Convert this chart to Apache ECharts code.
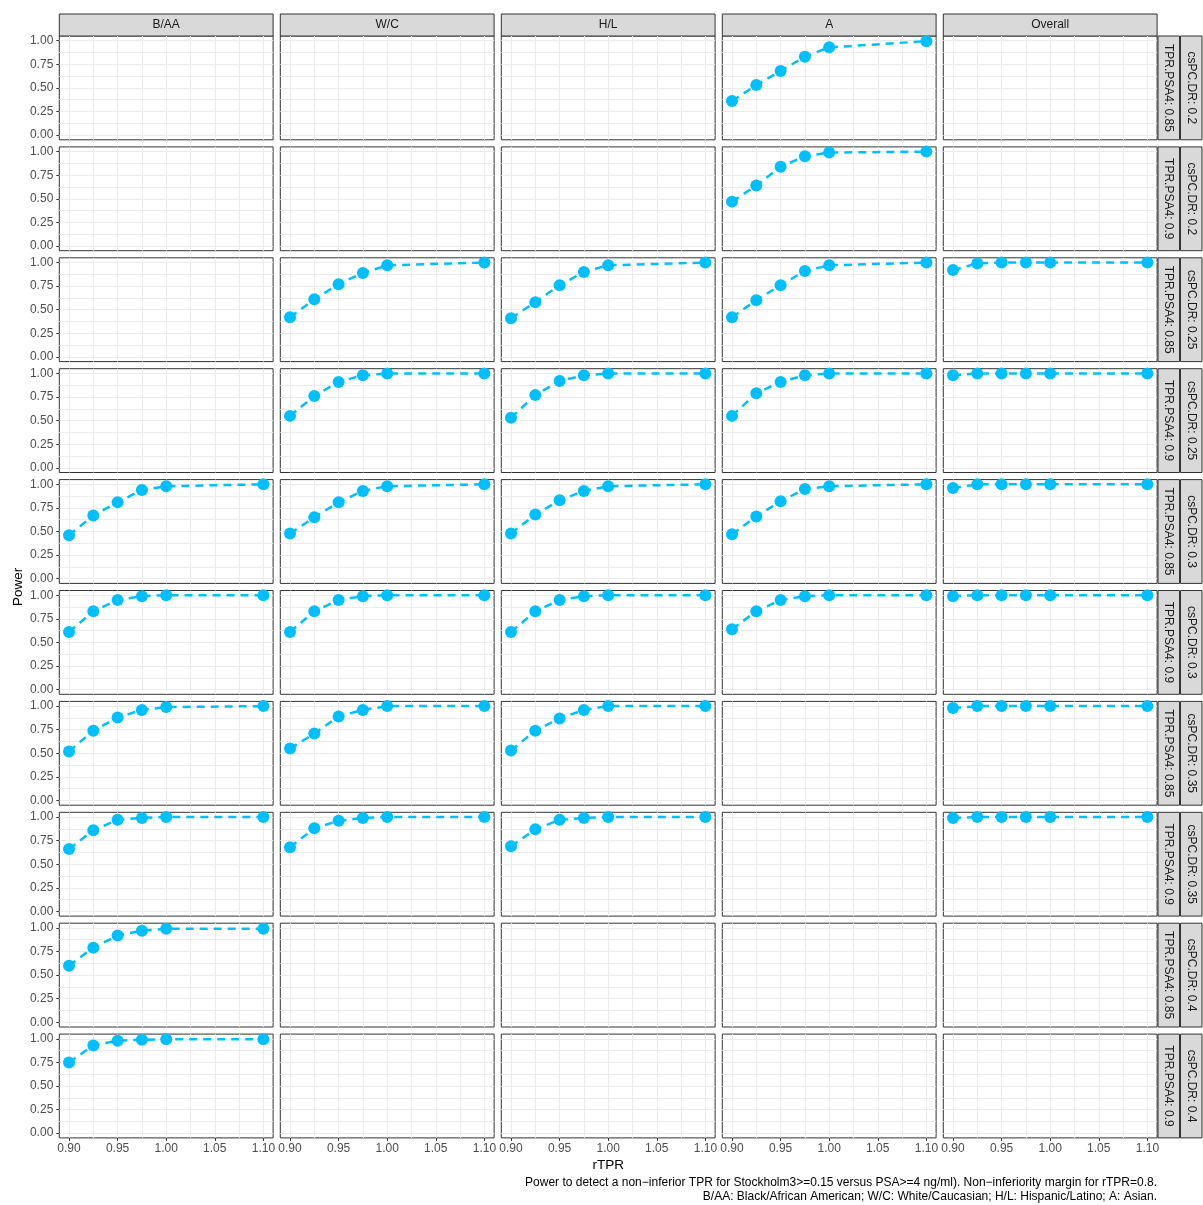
<!DOCTYPE html>
<html>
<head>
<meta charset="utf-8">
<title>Power vs rTPR</title>
<script src="https://cdn.jsdelivr.net/npm/echarts@6/dist/echarts.min.js"></script>
<style>
  html, body { margin: 0; padding: 0; background: #fff; }
  #chart { width: 1203px; height: 1205px; }
</style>
</head>
<body>
<div id="chart"></div>
<script>
// x positions shared by every panel
var rTPR = [0.9, 0.925, 0.95, 0.975, 1.0, 1.1];
var groups = ['B/AA', 'W/C', 'H/L', 'A', 'Overall'];
var csPCDR = ['0.2', '0.2', '0.25', '0.25', '0.3', '0.3', '0.35', '0.35', '0.4', '0.4'];
var tprPSA4 = ['0.85', '0.9', '0.85', '0.9', '0.85', '0.9', '0.85', '0.9', '0.85', '0.9'];
var xTicks = [0.9, 0.95, 1.0, 1.05, 1.1];
var xGridLines = [0.9, 0.925, 0.95, 0.975, 1.0, 1.025, 1.05, 1.075, 1.1];
var yTicks = [0, 0.25, 0.5, 0.75, 1];
var yGridLines = [0, 0.125, 0.25, 0.375, 0.5, 0.625, 0.75, 0.875, 1];

// power (one array per panel)
var pow_020_085_A = [0.36, 0.53, 0.68, 0.83, 0.93, 0.995];
var pow_020_090_A = [0.47, 0.64, 0.84, 0.95, 0.99, 1.0];
var pow_025_085_WC = [0.42, 0.61, 0.77, 0.89, 0.97, 1.0];
var pow_025_085_HL = [0.41, 0.58, 0.76, 0.90, 0.97, 1.0];
var pow_025_085_A = [0.42, 0.60, 0.76, 0.91, 0.97, 1.0];
var pow_025_085_All = [0.92, 0.99, 1.0, 1.0, 1.0, 1.0];
var pow_025_090_WC = [0.55, 0.76, 0.91, 0.98, 1.0, 1.0];
var pow_025_090_HL = [0.53, 0.77, 0.92, 0.98, 1.0, 1.0];
var pow_025_090_A = [0.55, 0.79, 0.91, 0.98, 1.0, 1.0];
var pow_025_090_All = [0.98, 1.0, 1.0, 1.0, 1.0, 1.0];
var pow_030_085_BAA = [0.46, 0.67, 0.81, 0.94, 0.98, 1.0];
var pow_030_085_WC = [0.48, 0.65, 0.81, 0.93, 0.98, 1.0];
var pow_030_085_HL = [0.48, 0.68, 0.83, 0.93, 0.98, 1.0];
var pow_030_085_A = [0.47, 0.66, 0.82, 0.95, 0.98, 1.0];
var pow_030_085_All = [0.96, 1.0, 1.0, 1.0, 1.0, 1.0];
var pow_030_090_BAA = [0.61, 0.83, 0.95, 0.99, 1.0, 1.0];
var pow_030_090_WC = [0.61, 0.83, 0.95, 0.99, 1.0, 1.0];
var pow_030_090_HL = [0.61, 0.83, 0.95, 0.99, 1.0, 1.0];
var pow_030_090_A = [0.64, 0.83, 0.95, 0.99, 1.0, 1.0];
var pow_030_090_All = [0.99, 1.0, 1.0, 1.0, 1.0, 1.0];
var pow_035_085_BAA = [0.52, 0.74, 0.88, 0.96, 0.99, 1.0];
var pow_035_085_WC = [0.55, 0.71, 0.89, 0.96, 1.0, 1.0];
var pow_035_085_HL = [0.53, 0.74, 0.87, 0.96, 1.0, 1.0];
var pow_035_085_All = [0.98, 1.0, 1.0, 1.0, 1.0, 1.0];
var pow_035_090_BAA = [0.66, 0.86, 0.97, 0.99, 1.0, 1.0];
var pow_035_090_WC = [0.68, 0.88, 0.96, 0.99, 1.0, 1.0];
var pow_035_090_HL = [0.69, 0.87, 0.97, 0.99, 1.0, 1.0];
var pow_035_090_All = [0.99, 1.0, 1.0, 1.0, 1.0, 1.0];
var pow_040_085_BAA = [0.60, 0.79, 0.92, 0.97, 0.99, 0.99];
var pow_040_090_BAA = [0.75, 0.93, 0.98, 0.99, 0.995, 0.995];

// [row, column, values]
var panels = [
  [0, 3, pow_020_085_A],
  [1, 3, pow_020_090_A],
  [2, 1, pow_025_085_WC], [2, 2, pow_025_085_HL], [2, 3, pow_025_085_A], [2, 4, pow_025_085_All],
  [3, 1, pow_025_090_WC], [3, 2, pow_025_090_HL], [3, 3, pow_025_090_A], [3, 4, pow_025_090_All],
  [4, 0, pow_030_085_BAA], [4, 1, pow_030_085_WC], [4, 2, pow_030_085_HL], [4, 3, pow_030_085_A], [4, 4, pow_030_085_All],
  [5, 0, pow_030_090_BAA], [5, 1, pow_030_090_WC], [5, 2, pow_030_090_HL], [5, 3, pow_030_090_A], [5, 4, pow_030_090_All],
  [6, 0, pow_035_085_BAA], [6, 1, pow_035_085_WC], [6, 2, pow_035_085_HL], [6, 4, pow_035_085_All],
  [7, 0, pow_035_090_BAA], [7, 1, pow_035_090_WC], [7, 2, pow_035_090_HL], [7, 4, pow_035_090_All],
  [8, 0, pow_040_085_BAA],
  [9, 0, pow_040_090_BAA]
];

// panel layout
var L = 59.3, STEP_X = 221, W = 213.8;
var T = 36, STEP_Y = 110.9, H = 103.8;
var NROW = csPCDR.length, NCOL = groups.length;
var font = 'Liberation Sans, Arial, Helvetica, sans-serif';

var grids = [], xAxes = [], yAxes = [], series = [], graphics = [];

for (var r = 0; r < NROW; r++) {
  for (var c = 0; c < NCOL; c++) {
    var gi = r * NCOL + c;
    grids.push({
      left: L + c * STEP_X, top: T + r * STEP_Y, width: W, height: H,
      show: true, backgroundColor: '#fff', borderColor: '#333333', borderWidth: 1,
      containLabel: false, outerBoundsMode: 'none'
    });
    // gridline axes (major + minor breaks)
    xAxes.push({
      type: 'value', gridIndex: gi, min: 0.89, max: 1.11,
      axisLine: { show: false, onZero: false },
      axisTick: { show: false, customValues: xGridLines },
      axisLabel: { show: false },
      splitLine: { show: true, lineStyle: { color: '#EBEBEB', width: 1 } }
    });
    yAxes.push({
      type: 'value', gridIndex: gi, min: -0.05, max: 1.05,
      axisLine: { show: false, onZero: false },
      axisTick: { show: false, customValues: yGridLines },
      axisLabel: { show: false },
      splitLine: { show: true, lineStyle: { color: '#EBEBEB', width: 1 } }
    });
  }
}

// labelled axes: bottom row and first column
for (var c = 0; c < NCOL; c++) {
  xAxes.push({
    type: 'value', gridIndex: (NROW - 1) * NCOL + c, position: 'bottom', min: 0.89, max: 1.11,
    axisLine: { show: false, onZero: false },
    axisTick: { show: true, length: 3, customValues: xTicks, lineStyle: { color: '#333333', width: 1 } },
    axisLabel: { customValues: xTicks, color: '#4D4D4D', fontSize: 12, fontFamily: font, margin: 5,
      formatter: function (v) { return v.toFixed(2); } },
    splitLine: { show: false }
  });
}
for (var r = 0; r < NROW; r++) {
  yAxes.push({
    type: 'value', gridIndex: r * NCOL, position: 'left', min: -0.05, max: 1.05,
    axisLine: { show: false, onZero: false },
    axisTick: { show: true, length: 3, customValues: yTicks, lineStyle: { color: '#333333', width: 1 } },
    axisLabel: { customValues: yTicks, color: '#4D4D4D', fontSize: 12, fontFamily: font, margin: 6,
      formatter: function (v) { return v.toFixed(2); } },
    splitLine: { show: false }
  });
}

panels.forEach(function (p) {
  var gi = p[0] * NCOL + p[1];
  series.push({
    type: 'line', xAxisIndex: gi, yAxisIndex: gi,
    data: rTPR.map(function (x, i) { return [x, p[2][i]]; }),
    symbol: 'circle', symbolSize: 12, showSymbol: true,
    lineStyle: { color: '#00BFFF', width: 2.5, type: [8, 6] },
    itemStyle: { color: '#00BFFF' },
    silent: true, animation: false
  });
});

// facet strips
groups.forEach(function (g, c) {
  graphics.push({
    type: 'rect', shape: { x: L + c * STEP_X, y: 14, width: W, height: 22 },
    style: { fill: '#D9D9D9', stroke: '#333333', lineWidth: 1 }
  });
  graphics.push({
    type: 'text', x: L + c * STEP_X + W / 2, y: 25,
    style: { text: g, fill: '#1A1A1A', fontSize: 12, fontFamily: font, align: 'center', verticalAlign: 'middle' }
  });
});
for (var r = 0; r < NROW; r++) {
  var rowTop = T + r * STEP_Y;
  [['TPR.PSA4: ' + tprPSA4[r], 1158, 21.5], ['csPC.DR: ' + csPCDR[r], 1180.5, 21.5]].forEach(function (s) {
    graphics.push({
      type: 'rect', shape: { x: s[1], y: rowTop, width: s[2], height: H },
      style: { fill: '#D9D9D9', stroke: '#333333', lineWidth: 1 }
    });
    graphics.push({
      type: 'text', x: s[1] + s[2] / 2, y: rowTop + H / 2, rotation: -Math.PI / 2,
      style: { text: s[0], fill: '#1A1A1A', fontSize: 12, fontFamily: font, align: 'center', verticalAlign: 'middle' }
    });
  });
}

// axis titles and caption
graphics.push({
  type: 'text', x: 18, y: T + (NROW * STEP_Y - (STEP_Y - H)) / 2, rotation: Math.PI / 2,
  style: { text: 'Power', fill: '#000', fontSize: 13.5, fontFamily: font, align: 'center', verticalAlign: 'middle' }
});
graphics.push({
  type: 'text', x: L + (NCOL * STEP_X - (STEP_X - W)) / 2, y: 1165,
  style: { text: 'rTPR', fill: '#000', fontSize: 13.5, fontFamily: font, align: 'center', verticalAlign: 'middle' }
});
graphics.push({
  type: 'text', x: 1157, y: 1183,
  style: { text: 'Power to detect a non\u2212inferior TPR for Stockholm3>=0.15 versus PSA>=4 ng/ml). Non\u2212inferiority margin for rTPR=0.8.',
    fill: '#000', fontSize: 12, fontFamily: font, align: 'right', verticalAlign: 'middle' }
});
graphics.push({
  type: 'text', x: 1157, y: 1197,
  style: { text: 'B/AA: Black/African American; W/C: White/Caucasian; H/L: Hispanic/Latino; A: Asian.',
    fill: '#000', fontSize: 12, fontFamily: font, align: 'right', verticalAlign: 'middle' }
});

var chart = echarts.init(document.getElementById('chart'), null, { renderer: 'canvas' });
chart.setOption({
  backgroundColor: '#fff',
  animation: false,
  grid: grids,
  xAxis: xAxes,
  yAxis: yAxes,
  series: series,
  graphic: graphics
});
</script>
</body>
</html>
